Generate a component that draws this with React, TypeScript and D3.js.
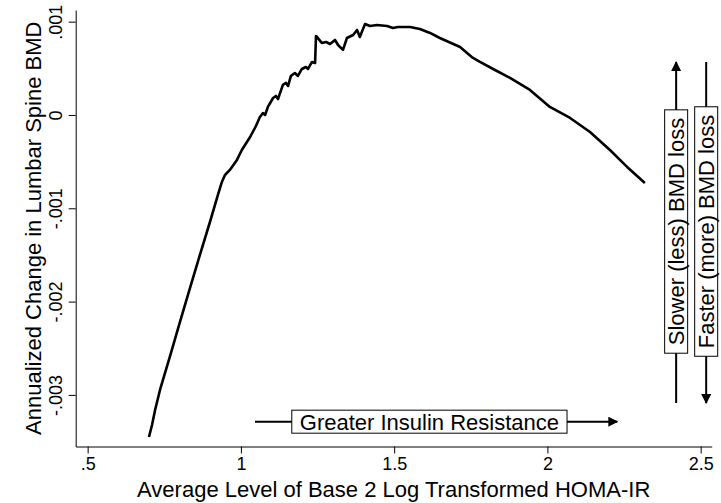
import { useEffect, useRef } from 'react';
import * as d3 from 'd3';

// average log2 HOMA-IR (x) and annualized change in lumbar spine BMD (y)
const homaX = [
  0.700, 0.710, 0.720, 0.736, 0.769, 0.801, 0.834, 0.866, 0.899, 0.925,
  0.938, 0.948, 0.964, 0.987, 1.003, 1.030, 1.049, 1.062, 1.072, 1.079,
  1.088, 1.105, 1.114, 1.121, 1.137, 1.147, 1.154, 1.163, 1.176, 1.186,
  1.199, 1.212, 1.219, 1.232, 1.242, 1.245, 1.264, 1.278, 1.291, 1.307,
  1.317, 1.333, 1.346, 1.366, 1.379, 1.388, 1.405, 1.421, 1.444, 1.477,
  1.496, 1.512, 1.552, 1.584, 1.617, 1.649, 1.715, 1.757, 1.780, 1.829,
  1.878, 1.943, 2.008, 2.074, 2.139, 2.204, 2.260, 2.318,
];
const bmdY = [
  -0.003451, -0.003323, -0.003162, -0.002947, -0.002583, -0.002219, -0.001854, -0.001501, -0.001147, -0.000857,
  -0.000718, -0.000643, -0.000589, -0.000482, -0.000375, -0.000236, -0.000118, -0.000021, 0.000021, 0.000000,
  0.000086, 0.000182, 0.000204, 0.000171, 0.000322, 0.000343, 0.000311, 0.000418, 0.000450, 0.000418,
  0.000493, 0.000514, 0.000493, 0.000568, 0.000557, 0.000847, 0.000772, 0.000782, 0.000761, 0.000804,
  0.000750, 0.000697, 0.000825, 0.000857, 0.000911, 0.000836, 0.000975, 0.000954, 0.000965, 0.000954,
  0.000932, 0.000943, 0.000943, 0.000922, 0.000879, 0.000825, 0.000729, 0.000611, 0.000568, 0.000482,
  0.000397, 0.000268, 0.000086, -0.000032, -0.000182, -0.000375, -0.000557, -0.000729,
];

const xTicks = [0.5, 1, 1.5, 2, 2.5];
const yTicks = [-0.003, -0.002, -0.001, 0, 0.001];

const FONT = '"Liberation Sans", Arial, Helvetica, sans-serif';

// stata style: drop the leading zero
const fmt = (v: number) => {
  if (v === 0) return '0';
  const s = String(v);
  return s.replace(/^0\./, '.').replace(/^-0\./, '-.');
};

const App = () => {
  const svgRef = useRef<SVGSVGElement>(null);
  const width = 721;
  const height = 503;

  useEffect(() => {
    const svg = d3.select(svgRef.current);
    svg.selectAll('*').remove();

    const x = d3.scaleLinear().domain([0.461, 2.536]).range([75.7, 711.7]);
    const y = d3.scaleLinear().domain([-0.003553, 0.001125]).range([446.5, 10]);

    const defs = svg.append('defs');
    defs.append('marker')
      .attr('id', 'head')
      .attr('viewBox', '0 0 10 10')
      .attr('refX', 9)
      .attr('refY', 5)
      .attr('markerWidth', 10)
      .attr('markerHeight', 10)
      .attr('markerUnits', 'userSpaceOnUse')
      .attr('orient', 'auto')
      .append('path')
      .attr('d', 'M0,0 L10,5 L0,10 Z')
      .attr('fill', '#000');

    // X axis
    const gx = svg.append('g')
      .attr('transform', `translate(0,${y.range()[0]})`)
      .call(d3.axisBottom(x).tickValues(xTicks).tickFormat(d => fmt(+d)).tickSize(7).tickSizeOuter(0));
    gx.selectAll('text')
      .attr('y', 11)
      .attr('dy', '0.71em')
      .style('font-family', FONT)
      .style('font-size', '18px')
      .style('fill', '#000');

    // Y axis, labels rotated
    const gy = svg.append('g')
      .attr('transform', `translate(${x.range()[0]},0)`)
      .call(d3.axisLeft(y).tickValues(yTicks).tickFormat(d => fmt(+d)).tickSize(7).tickSizeOuter(0));
    gy.selectAll('text')
      .attr('transform', 'rotate(-90)')
      .attr('x', 0)
      .attr('y', -14)
      .attr('dy', 0)
      .attr('text-anchor', 'middle')
      .style('font-family', FONT)
      .style('font-size', '18px')
      .style('fill', '#000');

    svg.selectAll('.domain, .tick line')
      .attr('stroke', '#000')
      .attr('stroke-width', 1);

    // axis titles
    svg.append('text')
      .attr('x', (x.range()[0] + x.range()[1]) / 2)
      .attr('y', 497)
      .attr('text-anchor', 'middle')
      .style('font-family', FONT)
      .style('font-size', '22px')
      .text('Average Level of Base 2 Log Transformed HOMA-IR');

    svg.append('text')
      .attr('transform', `translate(41,${(y.range()[0] + y.range()[1]) / 2}) rotate(-90)`)
      .attr('text-anchor', 'middle')
      .style('font-family', FONT)
      .style('font-size', '22px')
      .text('Annualized Change in Lumbar Spine BMD');

    // curve
    const pts: [number, number][] = homaX.map((v, i) => [v, bmdY[i]]);
    svg.append('path')
      .datum(pts)
      .attr('fill', 'none')
      .attr('stroke', '#000')
      .attr('stroke-width', 2.6)
      .attr('stroke-linejoin', 'round')
      .attr('d', d3.line().x(d => x(d[0])).y(d => y(d[1])));

    // boxed label helper
    const boxed = (cx: number, cy: number, label: string, rotate: boolean) => {
      const g = svg.append('g')
        .attr('transform', `translate(${cx},${cy})${rotate ? ' rotate(-90)' : ''}`);
      const rect = g.append('rect').attr('fill', '#fff').attr('stroke', '#000').attr('stroke-width', 1);
      const t = g.append('text')
        .attr('text-anchor', 'middle')
        .attr('dy', '0.36em')
        .style('font-family', FONT)
        .style('font-size', '22px')
        .text(label);
      const bb = (t.node() as SVGTextElement).getBBox();
      const padX = 8;
      rect.attr('x', bb.x - padX).attr('width', bb.width + padX * 2)
        .attr('y', -11.5).attr('height', 23);
    };

    // horizontal arrow
    const arrY = y(-0.003287);
    svg.append('line')
      .attr('x1', x(1.046)).attr('x2', x(2.228))
      .attr('y1', arrY).attr('y2', arrY)
      .attr('stroke', '#000').attr('stroke-width', 2)
      .attr('marker-end', 'url(#head)');
    boxed(x(1.615), arrY, 'Greater Insulin Resistance', false);

    // vertical arrows
    const top = y(0.000568);
    const bottom = y(-0.003087);
    const mid = y(-0.001249);
    svg.append('line')
      .attr('x1', x(2.42)).attr('x2', x(2.42))
      .attr('y1', bottom).attr('y2', top)
      .attr('stroke', '#000').attr('stroke-width', 2)
      .attr('marker-end', 'url(#head)');
    boxed(x(2.42), mid, 'Slower (less) BMD loss', true);

    svg.append('line')
      .attr('x1', x(2.518)).attr('x2', x(2.518))
      .attr('y1', top).attr('y2', bottom)
      .attr('stroke', '#000').attr('stroke-width', 2)
      .attr('marker-end', 'url(#head)');
    boxed(x(2.518), mid, 'Faster (more) BMD loss', true);
  }, []);

  return (
    <svg
      ref={svgRef}
      width={width}
      height={height}
      style={{ position: 'absolute', left: 0, top: 0, background: '#fff' }}
    />
  );
};

export default App;
